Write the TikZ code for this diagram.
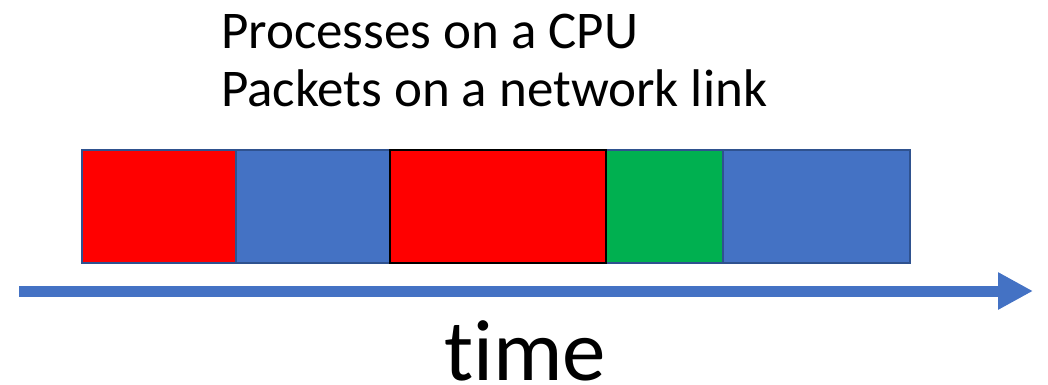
\documentclass[tikz,border=0pt]{standalone}
\usepackage{fontspec}
\setmainfont{Carlito}
\usetikzlibrary{arrows.meta}
\definecolor{pred}{HTML}{FF0000}
\definecolor{pblue}{HTML}{4472C4}
\definecolor{pgreen}{HTML}{00B050}
\definecolor{pborder}{HTML}{2F528F}
\tikzset{
  slot/.style={draw=pborder, line width=2pt, inner sep=0pt, outer sep=0pt,
    minimum height=113pt, anchor=north west},
  lbl/.style={inner sep=0pt, anchor=base west, font=\fontsize{53}{64}\selectfont},
}
\begin{document}
\begin{tikzpicture}[x=1pt,y=-1pt]
\useasboundingbox (0,0) rectangle (1048,384);
\node[lbl] (l1) at (221,48) {Processes on a CPU};
\node[lbl] (l2) at (221,106) {Packets on a network link};
\node[slot, fill=pred, minimum width=154pt] (b1) at (82,150) {};
\node[slot, fill=pblue, minimum width=154pt] (b2) at (236,150) {};
\node[slot, fill=pgreen, minimum width=117pt] (b4) at (606,150) {};
\node[slot, fill=pblue, minimum width=187pt] (b5) at (723,150) {};
\node[slot, fill=pred, draw=black, line width=2.5pt, minimum width=216pt] (b3) at (390,150) {};
\coordinate (tstart) at (19,291);
\coordinate (tend) at (1033,291);
\draw[pblue, line width=11pt, -{Triangle[length=35pt,width=35pt]}] (tstart) -- (tend);
\node[inner sep=0pt, anchor=base west, font=\fontsize{87}{100}\selectfont] (t) at (444,380) {t\kern0pt ime};
\end{tikzpicture}
\end{document}
